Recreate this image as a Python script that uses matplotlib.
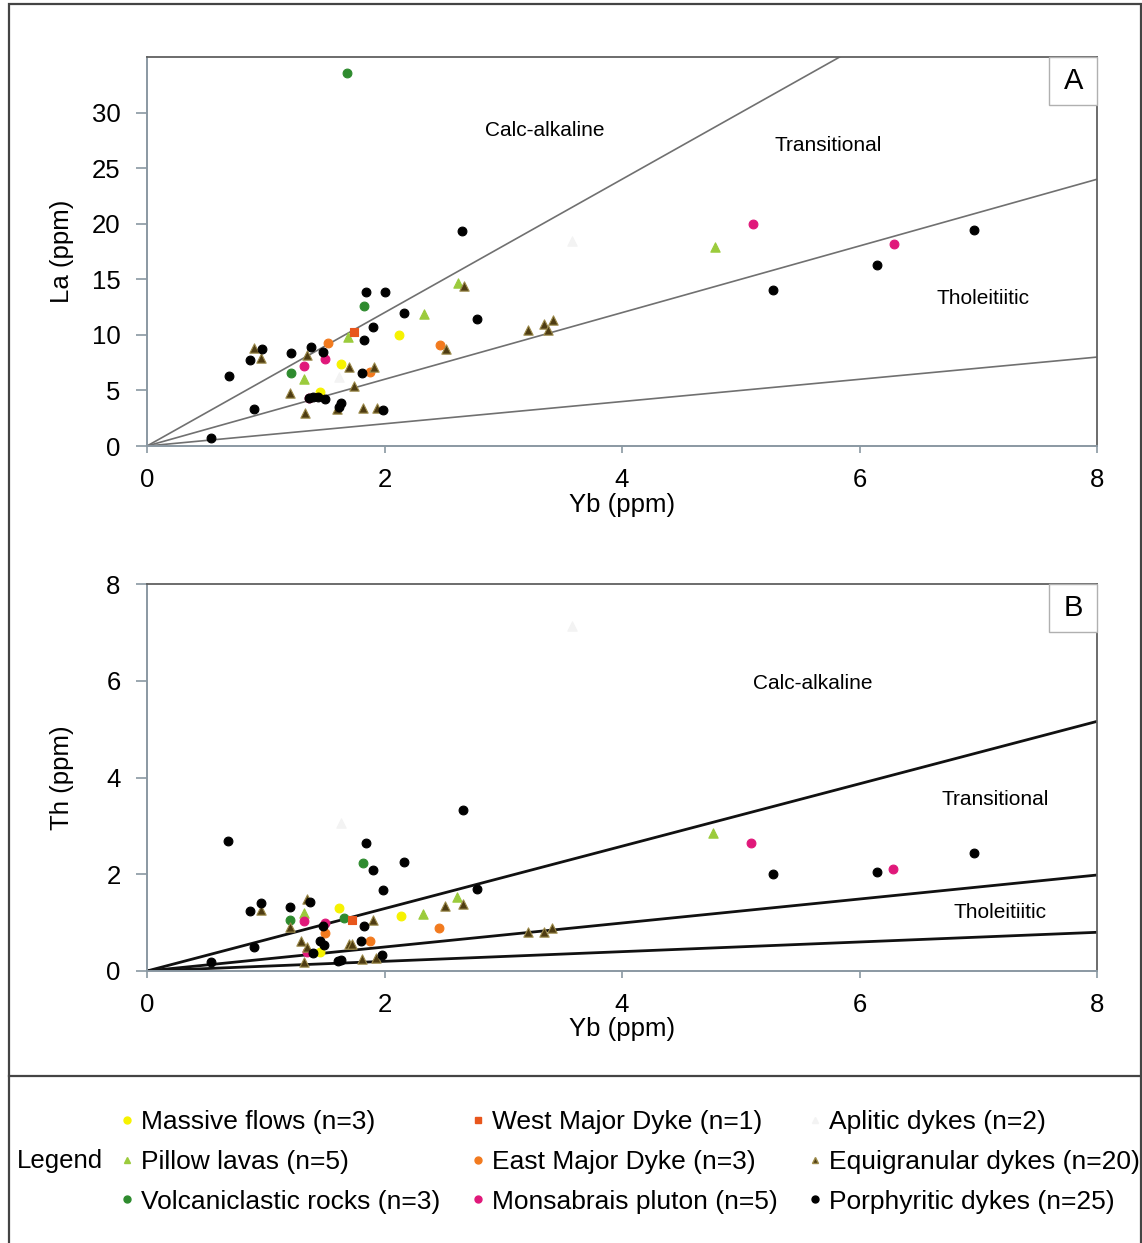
import numpy as np
import matplotlib
matplotlib.use("Agg")
import matplotlib.pyplot as plt
from matplotlib.lines import Line2D
from matplotlib.patches import Rectangle

plt.rcParams['font.family'] = ['Liberation Sans', 'DejaVu Sans']

# ---- data: (Yb, La) for panel A, (Yb, Th) for panel B
massive_a = [(2.12, 10.0), (1.63, 7.4), (1.46, 4.9)]
massive_b = [(1.62, 1.31), (2.14, 1.14), (1.46, 0.40)]

pillow_a = [(2.62, 14.7), (2.33, 11.9), (1.69, 9.8), (1.32, 6.0), (4.78, 17.9)]
pillow_b = [(1.32, 1.20), (2.32, 1.18), (2.61, 1.53), (4.77, 2.85)]

volc_a = [(1.68, 33.6), (1.83, 12.6), (1.21, 6.6)]
volc_b = [(1.82, 2.24), (1.20, 1.05), (1.66, 1.09)]

west_a = [(1.74, 10.3)]
west_b = [(1.73, 1.06)]

east_a = [(1.52, 9.3), (2.47, 9.1), (1.88, 6.7)]
east_b = [(1.50, 0.79), (2.46, 0.89), (1.88, 0.62)]

monsabrais_a = [(1.32, 7.2), (1.50, 7.8), (1.36, 4.3), (5.10, 20.0), (6.29, 18.2)]
monsabrais_b = [(1.32, 1.03), (1.50, 0.99), (1.35, 0.39), (5.09, 2.64), (6.28, 2.11)]

aplitic_a = [(3.58, 18.4), (1.62, 6.2)]
aplitic_b = [(3.58, 7.13), (1.63, 3.05)]

equi_a = [(0.90, 8.8), (0.96, 7.9), (2.67, 14.4), (2.52, 8.7), (1.35, 8.2),
          (1.70, 7.1), (1.91, 7.1), (1.20, 4.8), (1.74, 5.4), (1.33, 3.0),
          (1.82, 3.4), (1.94, 3.4), (1.60, 3.3), (3.21, 10.4), (3.34, 11.0),
          (3.38, 10.4), (3.42, 11.3)]
equi_b = [(1.35, 1.49), (0.96, 1.27), (1.20, 0.90), (1.90, 1.05), (2.51, 1.34),
          (2.66, 1.39), (1.30, 0.63), (1.70, 0.56), (1.73, 0.56), (1.35, 0.50),
          (1.32, 0.18), (1.81, 0.25), (1.93, 0.27), (3.21, 0.81), (3.34, 0.80),
          (3.41, 0.89)]

porph_a = [(2.65, 19.3), (1.84, 13.9), (2.00, 13.9), (2.16, 12.0), (2.78, 11.4),
           (1.90, 10.7), (1.83, 9.5), (0.97, 8.7), (0.87, 7.7), (1.21, 8.4),
           (1.38, 8.9), (1.48, 8.5), (0.69, 6.3), (1.81, 6.6), (0.90, 3.35),
           (0.54, 0.75), (1.36, 4.3), (1.40, 4.4), (1.44, 4.4), (1.50, 4.2),
           (1.63, 3.9), (1.62, 3.5), (1.99, 3.2), (5.27, 14.0), (6.15, 16.3),
           (6.96, 19.4)]
porph_b = [(0.68, 2.69), (2.66, 3.32), (1.84, 2.64), (1.90, 2.09), (2.16, 2.25),
           (1.99, 1.67), (2.78, 1.69), (0.87, 1.25), (0.96, 1.40), (1.20, 1.32),
           (1.37, 1.43), (1.83, 0.93), (1.48, 0.92), (1.46, 0.63), (1.49, 0.54),
           (1.80, 0.63), (0.90, 0.50), (1.98, 0.34), (0.54, 0.19), (1.40, 0.37),
           (1.63, 0.22), (1.61, 0.21), (5.27, 2.00), (6.15, 2.05), (6.96, 2.44)]

# discrimination lines (ratio through origin)
la_yb_ratios = [6, 3, 1]
th_yb_ratios = [0.645, 0.248, 0.1]

# legend order is column-major (3 columns x 3 rows)
groups = [
    ("Massive flows (n=3)", massive_a, massive_b, 'o', '#f6f200', None),
    ("Pillow lavas (n=5)", pillow_a, pillow_b, '^', '#9bcb3c', None),
    ("Volcaniclastic rocks (n=3)", volc_a, volc_b, 'o', '#2e8b2e', None),
    ("West Major Dyke (n=1)", west_a, west_b, 's', '#e8561c', None),
    ("East Major Dyke (n=3)", east_a, east_b, 'o', '#f27a1e', None),
    ("Monsabrais pluton (n=5)", monsabrais_a, monsabrais_b, 'o', '#e0187a', None),
    ("Aplitic dykes (n=2)", aplitic_a, aplitic_b, '^', '#f3f3f3', None),
    ("Equigranular dykes (n=20)", equi_a, equi_b, '^', '#4e3c12', '#9c8a4a'),
    ("Porphyritic dykes (n=25)", porph_a, porph_b, 'o', '#000000', None),
]

W, H = 1142, 1243
fig = plt.figure(figsize=(W / 100, H / 100), dpi=100)

ax_a = fig.add_axes([147 / W, 1 - 446 / H, 950 / W, 389 / H])
ax_b = fig.add_axes([147 / W, 1 - 971 / H, 950 / W, 387 / H])


def style_axes(ax, ymax, yticks, ylabel):
    ax.set_xlim(0, 8)
    ax.set_ylim(0, ymax)
    ax.set_xticks([0, 2, 4, 6, 8])
    ax.set_yticks(yticks)
    for side in ['left', 'bottom']:
        ax.spines[side].set_color('#8a98a2')
        ax.spines[side].set_linewidth(1.4)
    for side in ['top', 'right']:
        ax.spines[side].set_color('#606060')
        ax.spines[side].set_linewidth(1.3)
    ax.tick_params(axis='y', direction='out', length=8, width=1.2,
                   color='#8a98a2', pad=11, labelsize=18.5)
    ax.tick_params(axis='x', direction='out', length=5, width=1.2,
                   color='#8a98a2', pad=11, labelsize=18.5)
    ax.set_xlabel('Yb (ppm)', fontsize=18.5, va='top')
    ax.set_ylabel(ylabel, fontsize=18.5)
    ax.xaxis.set_label_coords(0.5, -0.12)
    ax.yaxis.set_label_coords(-0.077, 0.5)


def corner_label(ax, letter):
    ax.add_patch(Rectangle((0.9495, 0.877), 0.0505, 0.123, transform=ax.transAxes,
                           facecolor='white', edgecolor='#b0b0b0', lw=1.0,
                           zorder=5, clip_on=False))
    ax.text(0.975, 0.938, letter, transform=ax.transAxes, ha='center',
            va='center', fontsize=21, zorder=6)


xs = np.array([0, 8])

# ---- panel A
style_axes(ax_a, 35, [0, 5, 10, 15, 20, 25, 30], 'La (ppm)')
for r in la_yb_ratios:
    ax_a.plot(xs, r * xs, color='#707070', lw=1.2, zorder=1)
for label, pa, pb, mk, col, ec in groups:
    pa = np.array(pa)
    ax_a.scatter(pa[:, 0], pa[:, 1], marker=mk, s=40 if mk != '^' else 45,
                 c=col, edgecolors=ec if ec else col, linewidths=0.8, zorder=3)
ax_a.text(3.35, 28.4, 'Calc-alkaline', fontsize=15, ha='center', va='center')
ax_a.text(5.74, 27.0, 'Transitional', fontsize=15, ha='center', va='center')
ax_a.text(7.04, 13.3, 'Tholeitiitic', fontsize=15, ha='center', va='center')
corner_label(ax_a, 'A')

# ---- panel B
style_axes(ax_b, 8, [0, 2, 4, 6, 8], 'Th (ppm)')
for r in th_yb_ratios:
    ax_b.plot(xs, r * xs, color='#111111', lw=2.0, zorder=1)
for label, pa, pb, mk, col, ec in groups:
    pb = np.array(pb)
    ax_b.scatter(pb[:, 0], pb[:, 1], marker=mk, s=40 if mk != '^' else 45,
                 c=col, edgecolors=ec if ec else col, linewidths=0.8, zorder=3)
ax_b.text(5.61, 5.95, 'Calc-alkaline', fontsize=15, ha='center', va='center')
ax_b.text(7.14, 3.55, 'Transitional', fontsize=15, ha='center', va='center')
ax_b.text(7.18, 1.2, 'Tholeitiitic', fontsize=15, ha='center', va='center')
corner_label(ax_b, 'B')

# ---- outer frame and legend panel
fig.add_artist(Rectangle((9 / W, -0.01), (W - 10) / W, 1 - 4 / H + 0.01,
                         transform=fig.transFigure, fill=False,
                         edgecolor='#444444', lw=1.6))
fig.add_artist(Line2D([9 / W, 1], [1 - 1076 / H] * 2, transform=fig.transFigure,
                      color='#444444', lw=1.6))

handles = [Line2D([], [], ls='', marker=mk, color=col, markersize=5,
                  markeredgecolor=ec if ec else col) for _, _, _, mk, col, ec in groups]
labels = [g[0] for g in groups]
fig.legend(handles, labels, ncol=3, loc='upper left',
           bbox_to_anchor=(119 / W, 1 - 1110 / H), frameon=False,
           fontsize=19, handlelength=0.6, handletextpad=0.25,
           columnspacing=1.1, labelspacing=0.6, borderpad=0, borderaxespad=0)
fig.text(17 / W, 1 - 1161 / H, 'Legend', fontsize=18.5, va='center', ha='left')

fig.savefig('out.png', dpi=100)
